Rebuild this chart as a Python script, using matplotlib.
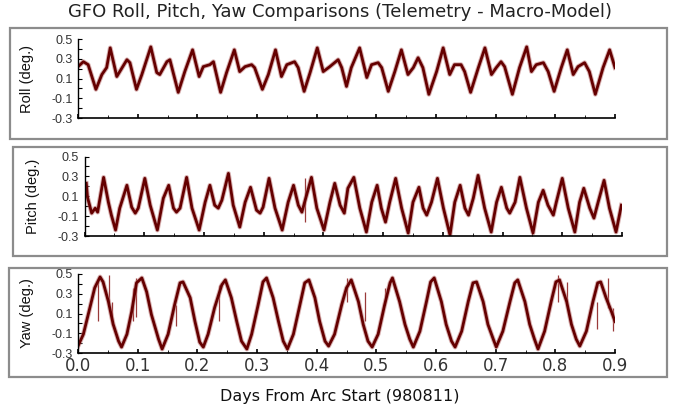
import matplotlib
matplotlib.use("Agg")
import matplotlib.pyplot as plt
from matplotlib.patches import Rectangle
from matplotlib.ticker import MultipleLocator

plt.rcParams['font.family'] = ['Liberation Sans', 'DejaVu Sans']

# Roll (deg.): turning points in days from arc start
roll_t = [0.000, 0.009, 0.017, 0.030, 0.040, 0.048, 0.054, 0.065, 0.070, 0.082, 0.087,
          0.098, 0.107, 0.122, 0.132, 0.137, 0.149, 0.154, 0.168, 0.179, 0.192, 0.203,
          0.210, 0.221, 0.227, 0.239, 0.249, 0.262, 0.271, 0.280, 0.291, 0.296, 0.309,
          0.319, 0.331, 0.341, 0.350, 0.363, 0.369, 0.379, 0.389, 0.401, 0.411, 0.422,
          0.436, 0.442, 0.450, 0.458, 0.472, 0.484, 0.492, 0.503, 0.509, 0.520, 0.531,
          0.542, 0.553, 0.562, 0.570, 0.578, 0.588, 0.601, 0.612, 0.623, 0.631, 0.642,
          0.648, 0.658, 0.671, 0.682, 0.693, 0.701, 0.709, 0.715, 0.728, 0.740, 0.752,
          0.760, 0.768, 0.780, 0.788, 0.798, 0.810, 0.820, 0.830, 0.838, 0.849, 0.857,
          0.867, 0.880, 0.891, 0.900]
roll_v = [0.22, 0.27, 0.24, -0.01, 0.14, 0.21, 0.41, 0.12, 0.17, 0.29, 0.26,
          -0.01, 0.14, 0.42, 0.16, 0.14, 0.27, 0.29, -0.04, 0.17, 0.39, 0.12,
          0.22, 0.24, 0.27, -0.04, 0.16, 0.39, 0.17, 0.22, 0.24, 0.21, -0.01,
          0.14, 0.39, 0.12, 0.24, 0.27, 0.21, -0.03, 0.16, 0.41, 0.17, 0.22,
          0.29, 0.21, 0.02, 0.21, 0.41, 0.11, 0.24, 0.26, 0.21, -0.03, 0.17,
          0.39, 0.14, 0.21, 0.31, 0.21, -0.06, 0.17, 0.41, 0.14, 0.24, 0.24,
          0.17, -0.04, 0.21, 0.41, 0.14, 0.21, 0.27, 0.22, -0.06, 0.21, 0.42,
          0.17, 0.24, 0.26, 0.17, -0.03, 0.21, 0.39, 0.14, 0.22, 0.26, 0.17,
          -0.06, 0.21, 0.39, 0.21]

# Pitch (deg.)
pitch_t = [0.003, 0.005, 0.012, 0.018, 0.022, 0.032, 0.040, 0.045, 0.052, 0.059, 0.071,
           0.079, 0.085, 0.090, 0.101, 0.110, 0.122, 0.132, 0.141, 0.149, 0.154, 0.160,
           0.171, 0.180, 0.192, 0.202, 0.210, 0.218, 0.224, 0.230, 0.241, 0.249, 0.260,
           0.269, 0.278, 0.288, 0.294, 0.299, 0.309, 0.319, 0.331, 0.341, 0.350, 0.358,
           0.364, 0.380, 0.389, 0.401, 0.411, 0.419, 0.428, 0.435,
           0.441, 0.451, 0.461, 0.472, 0.481, 0.490, 0.497, 0.504, 0.511, 0.521, 0.531,
           0.542, 0.550, 0.560, 0.567, 0.573, 0.581, 0.591, 0.601, 0.612, 0.620, 0.629,
           0.637, 0.643, 0.651, 0.659, 0.670, 0.681, 0.690, 0.698, 0.707, 0.712, 0.721,
           0.729, 0.740, 0.751, 0.760, 0.768, 0.776, 0.785, 0.790, 0.800, 0.810, 0.821,
           0.829, 0.836, 0.846, 0.853, 0.860, 0.870, 0.879, 0.890, 0.899]
pitch_v = [0.23, 0.09, -0.07, -0.02, -0.06, 0.29, 0.04, -0.09, -0.24, -0.02, 0.21,
           -0.01, -0.07, -0.02, 0.28, 0.01, -0.24, 0.08, 0.21, -0.02, -0.06, -0.02,
           0.29, -0.02, -0.24, 0.04, 0.21, 0.01, -0.02, 0.06, 0.33, 0.01, -0.21,
           0.04, 0.19, -0.04, -0.07, -0.01, 0.28, -0.02, -0.24, 0.04, 0.21, 0.01,
           -0.06, 0.29, -0.02, -0.24, 0.04, 0.23, 0.01, -0.07,
           0.18, 0.29, -0.02, -0.26, 0.04, 0.21, -0.02, -0.16, 0.04, 0.28, -0.02,
           -0.27, 0.04, 0.19, -0.02, -0.09, 0.04, 0.28, -0.02, -0.29, 0.04, 0.21,
           -0.02, -0.09, 0.08, 0.31, -0.02, -0.26, 0.04, 0.19, -0.02, -0.07, 0.04,
           0.29, -0.02, -0.27, 0.04, 0.16, 0.01, -0.09, 0.04, 0.28, -0.02, -0.26,
           0.04, 0.18, -0.02, -0.12, 0.04, 0.26, -0.02, -0.26, 0.01]
# single glitch in pitch: time, low end, high end
pitch_spike_t = [0.370]
pitch_spike_lo = [-0.16]
pitch_spike_hi = [0.28]

# Yaw (deg.)
yaw_t = [0.000, 0.009, 0.020, 0.028, 0.037, 0.042, 0.051, 0.059, 0.068,
         0.073, 0.082, 0.090, 0.098, 0.107, 0.115, 0.123, 0.135, 0.141, 0.151,
         0.162, 0.171, 0.176, 0.188, 0.196, 0.204, 0.210, 0.218, 0.229,
         0.241, 0.247, 0.257, 0.266, 0.274, 0.283, 0.291, 0.302, 0.310, 0.316, 0.327,
         0.336, 0.344, 0.351, 0.361, 0.372, 0.380, 0.387, 0.397, 0.405, 0.414, 0.420,
         0.430, 0.442, 0.450, 0.458, 0.470, 0.478, 0.486, 0.493, 0.503, 0.514,
         0.523, 0.527, 0.539, 0.548, 0.556, 0.562, 0.573, 0.584, 0.591, 0.597, 0.609,
         0.617, 0.626, 0.632, 0.643, 0.654, 0.662, 0.668, 0.679, 0.687, 0.696, 0.701,
         0.712, 0.724, 0.732, 0.737, 0.749, 0.757, 0.765, 0.771, 0.782, 0.793, 0.801,
         0.807, 0.819, 0.827, 0.835, 0.841, 0.852, 0.863, 0.871, 0.876, 0.885,
         0.894, 0.900]
yaw_v = [-0.23, -0.11, 0.16, 0.36, 0.47, 0.42, 0.22, -0.01, -0.18,
         -0.24, -0.11, 0.12, 0.41, 0.46, 0.32, 0.09, -0.16, -0.26, -0.11,
         0.19, 0.41, 0.42, 0.26, 0.02, -0.19, -0.24, -0.11, 0.16,
         0.39, 0.44, 0.26, 0.02, -0.18, -0.26, -0.11, 0.19, 0.42, 0.46, 0.26,
         0.02, -0.18, -0.26, -0.11, 0.19, 0.41, 0.44, 0.26, 0.02, -0.18, -0.23,
         -0.11, 0.19, 0.36, 0.44, 0.22, -0.01, -0.18, -0.24, -0.11, 0.19,
         0.41, 0.46, 0.22, -0.01, -0.16, -0.24, -0.08, 0.22, 0.42, 0.46, 0.22,
         -0.01, -0.18, -0.24, -0.08, 0.22, 0.41, 0.42, 0.22, -0.01, -0.16, -0.24,
         -0.08, 0.22, 0.41, 0.44, 0.22, -0.01, -0.16, -0.26, -0.08, 0.22, 0.42,
         0.44, 0.22, -0.01, -0.16, -0.23, -0.08, 0.22, 0.41, 0.42, 0.26,
         0.12, 0.02]
# short telemetry spikes in yaw
yaw_spike_t = [0.034, 0.052, 0.057, 0.093, 0.098, 0.165, 0.236, 0.450, 0.481,
               0.514, 0.804, 0.819, 0.869, 0.888, 0.897]
yaw_spike_lo = [0.02, 0.19, -0.01, 0.02, 0.06, -0.03, 0.02, 0.22, 0.02,
                0.19, 0.22, 0.22, -0.06, 0.16, -0.08]
yaw_spike_hi = [0.42, 0.49, 0.22, 0.36, 0.46, 0.19, 0.39, 0.46, 0.32,
                0.36, 0.49, 0.42, 0.22, 0.46, 0.16]

y_ticks = [-0.3, -0.1, 0.1, 0.3, 0.5]
x_ticks = [0.0, 0.1, 0.2, 0.3, 0.4, 0.5, 0.6, 0.7, 0.8, 0.9]

W, H = 673, 408
fig = plt.figure(figsize=(W / 100, H / 100), dpi=100)


def px_box(x0, y0, x1, y1):
    # pixel box (top-left origin) -> figure fraction rect
    return [x0 / W, 1 - y1 / H, (x1 - x0) / W, (y1 - y0) / H]


# grey frames round each panel
for x0, y0, x1, y1 in [(10, 28, 667, 139), (13, 147, 667, 256), (9, 268, 667, 377)]:
    r = px_box(x0, y0, x1, y1)
    fig.patches.append(Rectangle((r[0], r[1]), r[2], r[3], transform=fig.transFigure,
                                 fill=False, edgecolor='#8c8c8c', linewidth=1.6))

panels = [
    (px_box(78, 39, 615, 118), roll_t, roll_v, None, "Roll (deg.)", 27),
    (px_box(84.5, 156.5, 622, 236), pitch_t, pitch_v,
     (pitch_spike_t, pitch_spike_lo, pitch_spike_hi), "Pitch (deg.)", 33),
    (px_box(78, 274, 615, 353), yaw_t, yaw_v,
     (yaw_spike_t, yaw_spike_lo, yaw_spike_hi), "Yaw (deg.)", 27),
]

axes = []
for rect, t, v, spikes, label, lx in panels:
    ax = fig.add_axes(rect)
    if spikes is not None:
        ax.vlines(spikes[0], spikes[1], spikes[2], color='#9a3a3a', linewidth=0.9)
    ax.plot(t, v, color='#b87070', linewidth=3.4, alpha=0.55)
    ax.plot(t, v, color='#650000', linewidth=2.0)
    ax.set_xlim(0, 0.9)
    ax.set_ylim(-0.3, 0.5)
    ax.set_yticks(y_ticks)
    ax.set_yticklabels([f"{y:.1f}" for y in y_ticks], fontsize=9, color='#333333')
    ax.yaxis.set_minor_locator(MultipleLocator(0.1))
    ax.set_xticks(x_ticks)
    ax.xaxis.set_minor_locator(MultipleLocator(0.05))
    ax.tick_params(axis='y', which='both', direction='in', length=3, width=0.8, pad=4)
    ax.tick_params(axis='x', which='major', direction='in', length=3, width=1.2)
    ax.tick_params(axis='x', which='minor', direction='in', length=2, width=0.6)
    ax.spines['top'].set_visible(False)
    ax.spines['right'].set_visible(False)
    ax.spines['left'].set_linewidth(1.0)
    ax.spines['bottom'].set_linewidth(1.2)
    ax.patch.set_alpha(0)
    cy = 1 - (rect[1] + rect[3] / 2)
    fig.text(lx / W, 1 - cy, label, rotation=90, ha='center', va='center',
             fontsize=10.5, color='#111111')
    axes.append(ax)

for ax in axes[:2]:
    ax.set_xticklabels([])

axes[2].set_xticklabels([f"{x:.1f}" for x in x_ticks], fontsize=12, color='#333333',
                        family=['DejaVu Sans'])
axes[2].tick_params(axis='x', which='major', pad=3)

fig.text(340 / W, 1 - 12 / H, "GFO Roll, Pitch, Yaw Comparisons (Telemetry - Macro-Model)",
         ha='center', va='center', fontsize=13, color='#222222', family=['DejaVu Sans'])
fig.text(340 / W, 1 - 397 / H, "Days From Arc Start (980811)",
         ha='center', va='center', fontsize=11.5, color='#111111', family=['DejaVu Sans'])

fig.savefig("out.png", dpi=100)
